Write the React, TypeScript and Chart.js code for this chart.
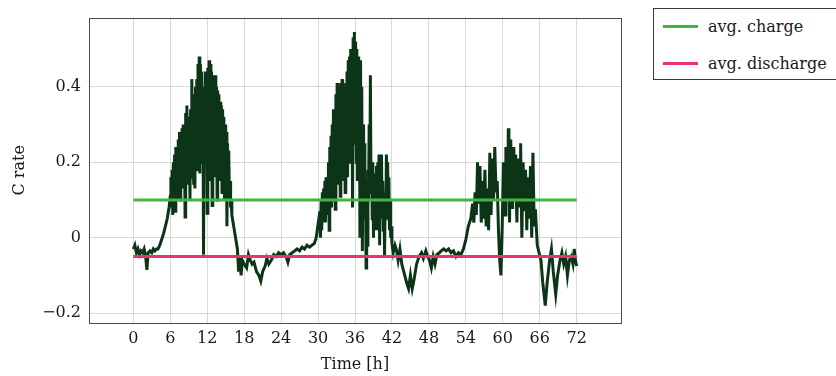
import React, { useEffect, useRef } from "react";
import { Chart, registerables } from "chart.js";

Chart.register(...registerables);

// C rate measurements, [hour, value] pairs, per segment
const nightA: [number, number][] = [
  [0, -0.03], [0.25, -0.02], [0.5, -0.04], [0.75, -0.03], [1.0, -0.045], [1.25, -0.035],
  [1.5, -0.04], [1.75, -0.03], [2.0, -0.05], [2.2, -0.085], [2.4, -0.04], [2.7, -0.035],
  [3.0, -0.04], [3.25, -0.03], [3.5, -0.035], [3.75, -0.03], [4.0, -0.03], [4.3, -0.02],
  [4.6, -0.005], [4.9, 0.01], [5.2, 0.03], [5.5, 0.05], [5.8, 0.08],
];
const dayPeak1: [number, number][] = [
  [6.0, 0.11], [6.1, 0.16], [6.2, 0.08], [6.3, 0.18], [6.4, 0.06], [6.5, 0.2], [6.6, 0.1],
  [6.7, 0.22], [6.8, 0.07], [6.9, 0.24], [7.0, 0.12], [7.1, 0.22], [7.2, 0.1], [7.3, 0.26],
  [7.4, 0.14], [7.5, 0.28], [7.6, 0.1], [7.7, 0.27], [7.8, 0.15], [7.9, 0.29], [8.0, 0.13],
  [8.1, 0.3], [8.2, 0.16], [8.3, 0.26], [8.4, 0.055], [8.5, 0.33], [8.6, 0.15], [8.7, 0.35],
  [8.8, 0.14], [8.9, 0.32], [9.0, 0.17], [9.1, 0.3], [9.2, 0.1], [9.3, 0.34], [9.4, 0.16],
  [9.5, 0.42], [9.6, 0.18], [9.7, 0.36], [9.8, 0.14], [9.9, 0.38], [10.0, 0.13], [10.1, 0.4],
  [10.2, 0.2], [10.3, 0.42], [10.4, 0.18], [10.5, 0.46], [10.6, 0.22], [10.7, 0.48],
  [10.8, 0.17], [10.9, 0.46], [11.0, 0.2], [11.1, 0.44], [11.2, 0.25], [11.3, 0.4],
  [11.4, -0.045], [11.5, 0.3], [11.6, 0.2], [11.7, 0.44], [11.8, 0.22], [11.9, 0.42],
  [12.0, 0.065], [12.1, 0.45], [12.2, 0.2], [12.3, 0.47], [12.4, 0.15], [12.5, 0.46],
  [12.6, 0.2], [12.7, 0.44], [12.8, 0.085], [12.9, 0.43], [13.0, 0.18], [13.1, 0.42],
  [13.2, 0.16], [13.3, 0.43], [13.4, 0.2], [13.5, 0.4], [13.6, 0.1], [13.7, 0.39], [13.8, 0.2],
  [13.9, 0.38], [14.0, 0.15], [14.1, 0.36], [14.2, 0.2], [14.3, 0.35], [14.4, 0.12],
  [14.5, 0.34], [14.6, 0.18], [14.7, 0.32], [14.8, 0.1], [14.9, 0.3], [15.0, 0.14],
  [15.1, 0.28], [15.2, 0.03], [15.3, 0.25], [15.4, 0.12], [15.5, 0.23], [15.6, 0.1],
  [15.7, 0.15], [15.8, 0.08], [15.9, 0.1], [16.0, 0.06], [16.3, 0.03], [16.6, 0.0],
  [16.9, -0.03], [17.1, -0.09], [17.3, -0.05], [17.5, -0.1], [17.7, -0.06],
];
const nightB: [number, number][] = [
  [18.0, -0.07], [18.4, -0.08], [18.7, -0.045], [19.0, -0.06], [19.3, -0.07], [19.6, -0.065],
  [20.0, -0.09], [20.4, -0.1], [20.7, -0.115], [21.0, -0.09], [21.4, -0.075], [21.7, -0.055],
  [22.0, -0.07], [22.4, -0.06], [22.8, -0.045], [23.2, -0.05], [23.6, -0.04], [24.0, -0.045],
  [24.4, -0.04], [24.8, -0.05], [25.1, -0.065], [25.4, -0.045], [25.8, -0.04], [26.2, -0.035],
  [26.6, -0.03], [27.0, -0.035], [27.4, -0.025], [27.8, -0.03], [28.2, -0.02], [28.6, -0.025],
  [29.0, -0.02], [29.4, -0.015], [29.7, 0.0], [30.0, 0.035],
];
const dayPeak2: [number, number][] = [
  [30.3, 0.07], [30.4, 0.0], [30.5, 0.1], [30.6, 0.02], [30.7, 0.12], [30.8, 0.04], [30.9, 0.13],
  [31.0, 0.06], [31.1, 0.15], [31.2, 0.04], [31.3, 0.16], [31.4, 0.08], [31.5, 0.16],
  [31.6, 0.06], [31.7, 0.2], [31.8, 0.02], [31.9, 0.24], [32.0, 0.1], [32.1, 0.27], [32.2, 0.08],
  [32.3, 0.3], [32.4, 0.12], [32.5, 0.34], [32.6, 0.1], [32.7, 0.32], [32.8, 0.075],
  [32.9, 0.38], [33.0, 0.14], [33.1, 0.41], [33.2, 0.14], [33.3, 0.4], [33.4, 0.16], [33.5, 0.4],
  [33.6, 0.11], [33.7, 0.41], [33.8, 0.2], [33.9, 0.42], [34.0, 0.2], [34.1, 0.4], [34.2, 0.15],
  [34.3, 0.38], [34.4, 0.12], [34.5, 0.41], [34.6, 0.2], [34.7, 0.44], [34.8, 0.16],
  [34.9, 0.47], [35.0, 0.22], [35.1, 0.48], [35.2, 0.2], [35.3, 0.5], [35.4, 0.25], [35.5, 0.5],
  [35.6, 0.08], [35.7, 0.53], [35.8, 0.25], [35.9, 0.545], [36.0, 0.25], [36.1, 0.52],
  [36.2, 0.2], [36.3, 0.5], [36.4, 0.15], [36.5, 0.48], [36.6, 0.2], [36.7, 0.46], [36.8, 0.0],
  [36.9, 0.47], [37.0, 0.1], [37.1, 0.4], [37.2, -0.035], [37.3, 0.3], [37.4, 0.1], [37.5, 0.25],
  [37.6, 0.05], [37.7, 0.15], [37.8, -0.08], [37.9, 0.1], [38.0, -0.02], [38.1, 0.18],
  [38.2, 0.1], [38.3, 0.3], [38.4, 0.12], [38.5, 0.43], [38.6, 0.12], [38.7, 0.2], [38.8, 0.05],
  [38.9, 0.2], [39.0, 0.0], [39.1, 0.12], [39.2, 0.05], [39.3, 0.17], [39.4, 0.02], [39.5, 0.19],
  [39.6, 0.04], [39.7, 0.2], [39.8, 0.02], [39.9, 0.22], [40.0, -0.02], [40.1, 0.2], [40.2, 0.05],
  [40.3, 0.22], [40.4, 0.07], [40.5, 0.15], [40.6, 0.02], [40.7, 0.12], [40.8, -0.05],
  [40.9, 0.1], [41.0, 0.05], [41.1, 0.22], [41.2, 0.08], [41.3, 0.2], [41.4, 0.05], [41.5, 0.16],
  [41.6, 0.02], [41.7, 0.1], [41.8, 0.0], [41.9, 0.03], [42.0, -0.015], [42.2, -0.04],
  [42.5, -0.02], [42.7, -0.03],
];
const nightC: [number, number][] = [
  [43.0, -0.06], [43.3, -0.03], [43.6, -0.07], [44.0, -0.095], [44.4, -0.12], [44.7, -0.135],
  [45.0, -0.1], [45.3, -0.135], [45.6, -0.11], [46.0, -0.07], [46.4, -0.05], [46.8, -0.04],
  [47.1, -0.055], [47.5, -0.035], [47.8, -0.05], [48.1, -0.06], [48.4, -0.08], [48.7, -0.05],
  [49.0, -0.07], [49.3, -0.045], [49.7, -0.04], [50.0, -0.035], [50.4, -0.03], [50.8, -0.035],
  [51.2, -0.03], [51.6, -0.04], [52.0, -0.035], [52.4, -0.05], [52.8, -0.04], [53.2, -0.045],
  [53.6, -0.03], [54.0, -0.005], [54.4, 0.03], [54.8, 0.05], [55.1, 0.09],
];
const dayPeak3: [number, number][] = [
  [55.3, 0.04], [55.5, 0.12], [55.7, 0.06], [55.9, 0.2], [56.1, 0.09], [56.3, 0.19],
  [56.5, 0.04], [56.7, 0.15], [56.9, 0.05], [57.1, 0.18], [57.3, 0.03], [57.5, 0.13],
  [57.7, 0.02], [57.9, 0.225], [58.1, 0.06], [58.3, 0.21], [58.5, 0.1], [58.7, 0.24],
  [58.9, 0.12], [59.1, 0.15], [59.3, 0.02], [59.5, -0.06], [59.7, -0.1], [59.9, 0.02],
  [60.1, 0.2], [60.2, 0.1], [60.3, 0.17], [60.4, 0.06], [60.5, 0.24], [60.6, 0.14], [60.7, 0.22],
  [60.8, 0.1], [60.9, 0.29], [61.0, 0.15], [61.1, 0.04], [61.2, 0.2], [61.3, 0.26], [61.4, 0.12],
  [61.5, 0.08], [61.6, 0.2], [61.7, 0.24], [61.8, 0.1], [61.9, 0.12], [62.0, 0.22], [62.1, 0.2],
  [62.2, 0.1], [62.3, 0.04], [62.4, 0.18], [62.5, 0.21], [62.6, 0.12], [62.7, 0.08],
  [62.8, 0.2], [62.9, 0.25], [63.0, 0.1], [63.1, 0.0], [63.3, 0.2], [63.5, 0.07],
  [63.7, 0.18], [63.9, 0.02], [64.1, 0.16], [64.3, 0.05], [64.5, 0.19], [64.7, 0.0],
  [64.9, 0.225], [65.1, 0.03], [65.3, 0.075], [65.6, -0.02], [65.9, -0.04],
];
const nightD: [number, number][] = [
  [66.2, -0.06], [66.5, -0.12], [66.9, -0.18], [67.2, -0.12], [67.6, -0.06], [67.9, -0.03],
  [68.2, -0.09], [68.6, -0.15], [68.9, -0.1], [69.3, -0.06], [69.6, -0.04], [69.9, -0.07],
  [70.2, -0.05], [70.5, -0.1], [70.8, -0.06], [71.1, -0.05], [71.4, -0.07], [71.6, -0.03],
  [71.8, -0.06], [72.0, -0.075],
];

const avgCharge = 0.1;
const avgDischarge = -0.05;
const avgSpan = [0, 72];

const xTicks = [0, 6, 12, 18, 24, 30, 36, 42, 48, 54, 60, 66, 72];
const yTicks = [-0.2, 0, 0.2, 0.4];

const legendLabels = ["avg. charge", "avg. discharge"];
const legendColors = ["#3fb73f", "#e8336b"];

const FONT = "'DejaVu Serif', serif";

export default function App() {
  const canvasRef = useRef<HTMLCanvasElement | null>(null);

  useEffect(() => {
    const canvas = canvasRef.current;
    if (!canvas) return;
    const series = [...nightA, ...dayPeak1, ...nightB, ...dayPeak2, ...nightC, ...dayPeak3, ...nightD].map(
      ([x, y]) => ({ x, y })
    );
    const boxPlugin = {
      id: "box",
      afterDatasetsDraw(chart: any) {
        const { ctx, chartArea } = chart;
        ctx.save();
        ctx.strokeStyle = "#4a4a4a";
        ctx.lineWidth = 1;
        ctx.strokeRect(
          Math.round(chartArea.left) + 0.5,
          Math.round(chartArea.top) + 0.5,
          Math.round(chartArea.right - chartArea.left),
          Math.round(chartArea.bottom - chartArea.top)
        );
        ctx.restore();
      },
    };
    const chart = new Chart(canvas, {
      type: "line",
      data: {
        datasets: [
          {
            label: legendLabels[0],
            data: avgSpan.map((x) => ({ x, y: avgCharge })),
            borderColor: legendColors[0],
            borderWidth: 3,
            pointRadius: 0,
            order: 0,
          },
          {
            label: legendLabels[1],
            data: avgSpan.map((x) => ({ x, y: avgDischarge })),
            borderColor: legendColors[1],
            borderWidth: 3,
            pointRadius: 0,
            order: 1,
          },
          {
            label: "C rate",
            data: series,
            borderColor: "#0c3518",
            borderWidth: 3,
            pointRadius: 0,
            tension: 0,
            borderJoinStyle: "miter",
            order: 2,
          },
        ],
      },
      options: {
        animation: false,
        responsive: false,
        events: [],
        layout: { padding: { left: 0, right: 215, top: 10, bottom: 0 } },
        plugins: { legend: { display: false }, tooltip: { enabled: false } },
        scales: {
          x: {
            type: "linear",
            min: -7.2,
            max: 79.2,
            afterBuildTicks: (scale: any) => {
              scale.ticks = xTicks.map((v) => ({ value: v }));
            },
            afterFit: (scale: any) => {
              scale.height = 53;
            },
            ticks: {
              font: { family: FONT, size: 16 },
              color: "#1a1a1a",
              padding: 6,
              maxRotation: 0,
              autoSkip: false,
              callback: (v: any) => String(v),
            },
            grid: { color: "#d9d9d9", lineWidth: 1, drawTicks: false },
            border: { display: false },
            title: {
              display: true,
              text: "Time [h]",
              font: { family: FONT, size: 16 },
              color: "#1a1a1a",
              padding: { top: 0, bottom: 2 },
            },
          },
          y: {
            type: "linear",
            min: -0.226,
            max: 0.583,
            afterBuildTicks: (scale: any) => {
              scale.ticks = yTicks.map((v) => ({ value: v }));
            },
            afterFit: (scale: any) => {
              scale.width = 89;
            },
            ticks: {
              font: { family: FONT, size: 16 },
              color: "#1a1a1a",
              padding: 8,
              autoSkip: false,
              callback: (v: any) => {
                const n = Number(v);
                if (Math.abs(n) < 1e-9) return "0";
                const s = Math.abs(n).toFixed(1);
                return n < 0 ? "\u2212" + s : s;
              },
            },
            grid: { color: "#d9d9d9", lineWidth: 1, drawTicks: false },
            border: { display: false },
            title: {
              display: true,
              text: "C rate",
              font: { family: FONT, size: 16 },
              color: "#1a1a1a",
              padding: { top: 10, bottom: 0 },
            },
          },
        },
      },
      plugins: [boxPlugin],
    });
    return () => chart.destroy();
  }, []);

  return (
    <div
      style={{
        position: "fixed",
        left: 0,
        top: 0,
        width: 836,
        height: 376,
        overflow: "hidden",
        background: "#ffffff",
      }}
    >
      <canvas ref={canvasRef} width={836} height={376} style={{ display: "block" }} />
      <div
        style={{
          position: "absolute",
          left: 653,
          top: 8,
          width: 220,
          height: 70,
          border: "1px solid #3a3a3a",
          background: "#fff",
          fontFamily: FONT,
          fontSize: 16,
          color: "#1a1a1a",
        }}
      >
        {legendLabels.map((label, i) => (
          <div
            key={label}
            style={{
              position: "absolute",
              left: 9,
              top: i === 0 ? 6 : 43,
              height: 22,
              display: "flex",
              alignItems: "center",
              whiteSpace: "nowrap",
            }}
          >
            <span
              style={{
                display: "inline-block",
                width: 35,
                height: 3,
                background: legendColors[i],
                marginRight: 10,
              }}
            />
            <span>{label}</span>
          </div>
        ))}
      </div>
    </div>
  );
}
